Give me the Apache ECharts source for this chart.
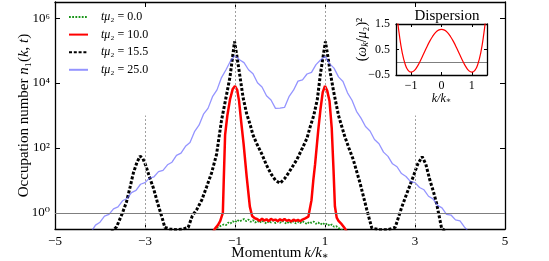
<!DOCTYPE html>
<html><head><meta charset="utf-8">
<script src="https://cdn.jsdelivr.net/npm/echarts@6/dist/echarts.min.js"></script>
<style>html,body{margin:0;padding:0;background:#fff}#c{width:549px;height:261px}</style>
</head><body><div id="c"></div>
<script>
const FONT = '"Liberation Serif", "DejaVu Serif", serif';

// ---- axes / ticks ----
const xTicks = [-5, -3, -1, 1, 3, 5];
const yTickExp = [0, 2, 4, 6];
const yTickLabels = ['10⁰', '10²', '10⁴', '10⁶'];
const seriesNames = ['tμ₂ = 0.0', 'tμ₂ = 10.0', 'tμ₂ = 15.5', 'tμ₂ = 25.0'];

// ---- tμ2 = 0.0 (log10 of occupation number) ----
const k0 = [-1.45,-1.4,-1.35,-1.3,-1.25,-1.2,-1.15,-1.1,-1.05,-1.0,-0.95,-0.9,-0.85,-0.8,-0.75,-0.7,-0.65,-0.6,-0.55,-0.5,-0.45,-0.4,-0.35,-0.3,-0.25,-0.2,-0.15,-0.1,-0.05,0,0.05,0.1,0.15,0.2,0.25,0.3,0.35,0.4,0.45,0.5,0.55,0.6,0.65,0.7,0.75,0.8,0.85,0.9,0.95,1.0,1.05,1.1,1.15,1.2,1.25,1.3,1.35,1.4];
const logN0 = [-0.55,-0.47,-0.43,-0.39,-0.36,-0.38,-0.3,-0.33,-0.26,-0.3,-0.22,-0.27,-0.23,-0.19,-0.26,-0.21,-0.28,-0.23,-0.3,-0.25,-0.31,-0.24,-0.29,-0.33,-0.26,-0.3,-0.24,-0.32,-0.27,-0.31,-0.25,-0.3,-0.34,-0.27,-0.31,-0.26,-0.33,-0.28,-0.32,-0.26,-0.3,-0.35,-0.28,-0.31,-0.27,-0.34,-0.3,-0.36,-0.31,-0.37,-0.33,-0.4,-0.36,-0.43,-0.41,-0.47,-0.5,-0.56];

// ---- tμ2 = 10.0 ----
const k10 = [-1.5,-1.44,-1.38,-1.33,-1.29,-1.27,-1.25,-1.22,-1.17,-1.11,-1.05,-1.0,-0.95,-0.91,-0.87,-0.81,-0.74,-0.67,-0.62,-0.56,-0.5,-0.45,-0.4,-0.35,-0.3,-0.25,-0.2,-0.15,-0.1,-0.05,0,0.05,0.1,0.15,0.2,0.25,0.3,0.35,0.4,0.45,0.5,0.56,0.63,0.7,0.74,0.78,0.85,0.9,0.95,1.0,1.05,1.1,1.15,1.19,1.22,1.26,1.3,1.37,1.44,1.5];
const logN10 = [-0.62,-0.48,-0.38,-0.26,-0.2,0.0,1.0,2.4,3.0,3.5,3.82,3.91,3.78,3.45,2.9,2.14,1.11,0.19,-0.1,-0.17,-0.2,-0.25,-0.18,-0.24,-0.2,-0.26,-0.19,-0.23,-0.21,-0.26,-0.2,-0.24,-0.19,-0.25,-0.22,-0.27,-0.21,-0.25,-0.22,-0.26,-0.21,-0.17,-0.12,0.39,1.0,1.5,2.55,3.2,3.72,3.91,3.76,3.45,2.6,1.3,0.2,-0.15,-0.25,-0.35,-0.48,-0.62];

// ---- tμ2 = 15.5 ----
const k15 = [-3.75,-3.63,-3.5,-3.41,-3.33,-3.26,-3.18,-3.11,-3.05,-2.98,-2.9,-2.81,-2.72,-2.62,-2.56,-2.45,-2.3,-2.15,-2.04,-1.95,-1.85,-1.74,-1.63,-1.52,-1.41,-1.3,-1.2,-1.11,-1.05,-1.01,-0.96,-0.9,-0.82,-0.74,-0.67,-0.6,-0.52,-0.4,-0.3,-0.2,-0.1,0,0.1,0.2,0.37,0.5,0.6,0.67,0.75,0.83,0.9,0.95,1.01,1.06,1.12,1.19,1.3,1.44,1.53,1.63,1.78,1.93,2.04,2.2,2.4,2.56,2.7,2.82,2.96,3.06,3.16,3.24,3.33,3.41,3.48,3.59,3.7];
const logN15 = [-0.6,-0.43,0.0,0.34,0.8,1.22,1.55,1.75,1.68,1.45,1.1,0.75,0.3,-0.15,-0.45,-0.5,-0.52,-0.5,-0.45,-0.1,0.1,0.39,0.8,1.23,1.8,2.85,3.55,4.2,4.85,5.28,4.85,4.3,3.55,3.05,2.75,2.4,2.14,1.8,1.47,1.2,1.0,0.91,1.05,1.25,1.63,2.0,2.3,2.65,3.0,3.5,4.3,4.75,5.28,4.85,4.3,3.75,3.0,2.35,2.0,1.63,0.91,0.09,-0.47,-0.52,-0.52,-0.45,0.15,0.6,1.11,1.5,1.73,1.5,1.01,0.65,0.29,-0.47,-0.6];

// ---- tμ2 = 25.0 ----
const k25 = [-4.2,-4.1,-4.0,-3.9,-3.8,-3.7,-3.6,-3.5,-3.4,-3.3,-3.2,-3.1,-3.0,-2.9,-2.8,-2.7,-2.6,-2.5,-2.4,-2.3,-2.2,-2.1,-2.0,-1.9,-1.8,-1.7,-1.6,-1.5,-1.4,-1.3,-1.2,-1.1,-1.0,-0.9,-0.8,-0.7,-0.6,-0.5,-0.4,-0.3,-0.2,-0.1,0,0.1,0.2,0.3,0.4,0.5,0.6,0.7,0.8,0.9,1.0,1.1,1.2,1.3,1.4,1.5,1.6,1.7,1.8,1.9,2.0,2.1,2.2,2.3,2.4,2.5,2.6,2.7,2.8,2.9,3.0,3.1,3.2,3.3,3.4,3.5,3.6,3.7,3.8,3.9,4.0,4.1,4.2];
const logN25 = [-0.6,-0.38,-0.29,-0.1,-0.05,0.12,0.18,0.37,0.44,0.62,0.69,0.88,0.93,1.07,1.11,1.27,1.31,1.48,1.56,1.77,1.84,2.05,2.17,2.5,2.7,3.04,3.22,3.58,3.79,4.17,4.41,4.68,4.85,4.72,4.63,4.41,4.29,4.01,3.88,3.61,3.48,3.22,3.23,3.25,3.58,3.78,4.06,4.1,4.28,4.33,4.57,4.71,4.83,4.6,4.46,4.19,4.05,3.7,3.47,3.13,2.92,2.66,2.52,2.26,2.13,1.87,1.74,1.51,1.42,1.21,1.12,0.96,0.93,0.78,0.71,0.51,0.43,0.23,0.15,-0.05,-0.07,-0.22,-0.25,-0.44,-0.6];

// ---- inset: dispersion ----
const kDisp = [-1.5,-1.45,-1.4,-1.3,-1.2,-1.1,-1.0,-0.9,-0.8,-0.7,-0.6,-0.5,-0.4,-0.3,-0.2,-0.1,0,0.1,0.2,0.3,0.4,0.5,0.6,0.7,0.8,0.9,1.0,1.1,1.2,1.3,1.4,1.45,1.5];
const omega2 = [2.24,1.65,1.16,0.41,-0.07,-0.32,-0.39,-0.33,-0.17,0.05,0.3,0.56,0.8,1.0,1.16,1.26,1.29,1.26,1.16,1.0,0.8,0.56,0.3,0.05,-0.17,-0.33,-0.39,-0.32,-0.07,0.41,1.16,1.65,2.24];
const inXTicks = [-1, 0, 1];
const inYTicks = [-0.5, 0.5, 1.5];

const zip = (a, b) => a.map((v, i) => [v, b[i]]);
const minus = v => (v < 0 ? '−' : '') + Math.abs(v);

const axisCommon = {
  axisLine: { show: true, onZero: false, lineStyle: { color: '#000', width: 1.3 } },
  splitLine: { show: false },
  nameMoveOverlap: false
};

const chart = echarts.init(document.getElementById('c'), null, { renderer: 'canvas' });
chart.setOption({
  animation: false,
  backgroundColor: '#fff',
  textStyle: { fontFamily: FONT },
  title: {
    text: 'Dispersion', left: 442, top: 4, textAlign: 'center',
    textStyle: { fontFamily: FONT, fontSize: 15, fontWeight: 'normal', color: '#000' }
  },
  legend: {
    orient: 'vertical', left: 68, top: 11, padding: 0, itemWidth: 19, itemHeight: 10, itemGap: 5.6,
    data: seriesNames,
    itemStyle: { opacity: 0 },
    formatter: n => '{i|tμ}' + n.slice(2),
    textStyle: { fontFamily: FONT, fontSize: 12, color: '#000', lineHeight: 12, padding: [0, 0, 0, 8],
      rich: { i: { fontFamily: FONT, fontSize: 12, fontStyle: 'italic', color: '#000' } } }
  },
  grid: [
    { left: 55, top: 2, width: 450, height: 227, containLabel: false, outerBoundsMode: 'none' },
    { left: 396, top: 24, width: 91, height: 51, containLabel: false, outerBoundsMode: 'none',
      backgroundColor: '#fff', show: true, borderWidth: 0, z: 5 }
  ],
  xAxis: [
    Object.assign({}, axisCommon, {
      type: 'value', gridIndex: 0, min: -5, max: 5, position: 'bottom',
      axisTick: { inside: true, length: 5, lineStyle: { color: '#000' }, customValues: xTicks },
      axisLabel: { customValues: xTicks, formatter: minus, margin: 6, fontFamily: FONT, fontSize: 13, color: '#000' },
      name: '{a|Momentum} {i|k/k}{s|∗}', nameLocation: 'middle', nameGap: 16,
      nameTextStyle: { rich: {
        a: { fontFamily: FONT, fontSize: 15, color: '#000' },
        i: { fontFamily: FONT, fontSize: 15, fontStyle: 'italic', color: '#000' },
        s: { fontFamily: FONT, fontSize: 10, color: '#000', padding: [6, 0, 0, 0] } } }
    }),
    Object.assign({}, axisCommon, {
      type: 'value', gridIndex: 0, min: -5, max: 5, position: 'top',
      axisTick: { inside: true, length: 5, lineStyle: { color: '#000' }, customValues: xTicks },
      axisLabel: { show: false }
    }),
    Object.assign({}, axisCommon, {
      type: 'value', gridIndex: 1, min: -1.5, max: 1.5, position: 'bottom', z: 6,
      axisTick: { inside: true, length: 3, lineStyle: { color: '#000' }, customValues: inXTicks },
      axisLabel: { customValues: inXTicks, formatter: minus, margin: 5, fontFamily: FONT, fontSize: 12, color: '#000' },
      name: '{i|k/k}{s|∗}', nameLocation: 'middle', nameGap: 17,
      nameTextStyle: { rich: {
        i: { fontFamily: FONT, fontSize: 12, fontStyle: 'italic', color: '#000' },
        s: { fontFamily: FONT, fontSize: 8, color: '#000', padding: [5, 0, 0, 0] } } }
    }),
    Object.assign({}, axisCommon, {
      type: 'value', gridIndex: 1, min: -1.5, max: 1.5, position: 'top', z: 6,
      axisTick: { inside: true, length: 3, lineStyle: { color: '#000' }, customValues: inXTicks },
      axisLabel: { show: false }
    })
  ],
  yAxis: [
    Object.assign({}, axisCommon, {
      type: 'value', gridIndex: 0, min: -0.5, max: 6.5, position: 'left',
      axisTick: { inside: true, length: 5, lineStyle: { color: '#000' }, customValues: yTickExp },
      axisLabel: { customValues: yTickExp, formatter: v => yTickLabels[yTickExp.indexOf(v)], margin: 5, fontFamily: FONT, fontSize: 13, color: '#000' },
      name: 'Occupation number {i|n}₁({i|k}, {i|t})', nameLocation: 'middle', nameGap: 23,
      nameTextStyle: { fontFamily: FONT, fontSize: 15, color: '#000',
        rich: { i: { fontFamily: FONT, fontSize: 15, fontStyle: 'italic', color: '#000' } } }
    }),
    Object.assign({}, axisCommon, {
      type: 'value', gridIndex: 0, min: -0.5, max: 6.5, position: 'right',
      axisTick: { inside: true, length: 5, lineStyle: { color: '#000' }, customValues: yTickExp },
      axisLabel: { show: false }
    }),
    Object.assign({}, axisCommon, {
      type: 'value', gridIndex: 1, min: -0.5, max: 1.5, position: 'left', z: 6,
      axisTick: { inside: true, length: 3, lineStyle: { color: '#000' }, customValues: inYTicks },
      axisLabel: { customValues: inYTicks, formatter: minus, margin: 6, fontFamily: FONT, fontSize: 12, color: '#000' },
      name: '({i|ω}{s|k}/{i|μ}₂)²', nameLocation: 'middle', nameGap: 26,
      nameTextStyle: { fontFamily: FONT, fontSize: 14, color: '#000', padding: [0, 0, 0, 20],
        rich: { i: { fontFamily: FONT, fontSize: 14, fontStyle: 'italic', color: '#000' },
                s: { fontFamily: FONT, fontSize: 10, fontStyle: 'italic', color: '#000', padding: [5, 0, 0, 0] } } }
    }),
    Object.assign({}, axisCommon, {
      type: 'value', gridIndex: 1, min: -0.5, max: 1.5, position: 'right', z: 6,
      axisTick: { inside: true, length: 3, lineStyle: { color: '#000' }, customValues: inYTicks },
      axisLabel: { show: false }
    })
  ],
  series: [
    {
      name: seriesNames[0], type: 'line', xAxisIndex: 0, yAxisIndex: 0, data: zip(k0, logN0),
      symbol: 'none', lineStyle: { color: '#1a961a', width: 1.8, type: [1.8, 1.4] }, itemStyle: { color: '#1a961a' },
      markLine: {
        silent: true, symbol: 'none', label: { show: false }, animation: false,
        data: [
          { yAxis: 0, lineStyle: { color: '#7f7f7f', width: 1, type: 'solid' } },
          { xAxis: -1, lineStyle: { color: '#a0a0a0', width: 1, type: [2, 2] } },
          { xAxis: 1, lineStyle: { color: '#a0a0a0', width: 1, type: [2, 2] } },
          [{ coord: [-3, -0.5], lineStyle: { color: '#a0a0a0', width: 1, type: [2, 2] } }, { coord: [-3, 3] }],
          [{ coord: [3, -0.5], lineStyle: { color: '#a0a0a0', width: 1, type: [2, 2] } }, { coord: [3, 3] }]
        ]
      }
    },
    {
      name: seriesNames[1], type: 'line', xAxisIndex: 0, yAxisIndex: 0, data: zip(k10, logN10),
      symbol: 'none', lineStyle: { color: '#ff0000', width: 2.5 }, itemStyle: { color: '#ff0000' }
    },
    {
      name: seriesNames[2], type: 'line', xAxisIndex: 0, yAxisIndex: 0, data: zip(k15, logN15),
      symbol: 'none', lineStyle: { color: '#000', width: 3, type: [3, 1.8] }, itemStyle: { color: '#000' }
    },
    {
      name: seriesNames[3], type: 'line', xAxisIndex: 0, yAxisIndex: 0, data: zip(k25, logN25),
      symbol: 'none', lineStyle: { color: 'rgba(90,90,255,0.65)', width: 1.3 }, itemStyle: { color: 'rgba(90,90,255,0.65)' }
    },
    {
      name: 'dispersion', type: 'line', xAxisIndex: 2, yAxisIndex: 2, data: zip(kDisp, omega2), z: 7,
      symbol: 'none', smooth: true, lineStyle: { color: '#ff0000', width: 1.2 },
      markLine: { silent: true, symbol: 'none', label: { show: false }, animation: false,
        data: [{ yAxis: 0, lineStyle: { color: '#7f7f7f', width: 1, type: 'solid' } }] }
    }
  ]
});
</script></body></html>
